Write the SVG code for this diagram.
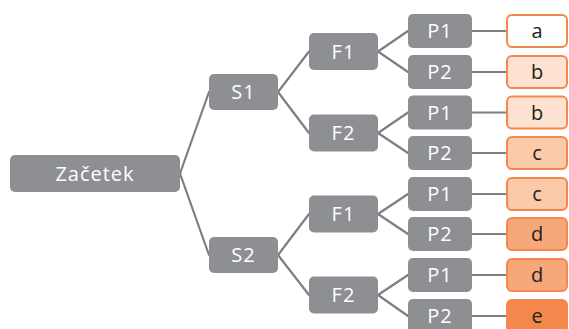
<svg xmlns="http://www.w3.org/2000/svg" width="569" height="329" viewBox="0 0 569 329">
<style>
.n rect{fill:#8e8f92}
.n text{fill:#ffffff;font-family:"Open Sans","DejaVu Sans",sans-serif;font-size:20px;text-anchor:middle;letter-spacing:1px}
.l rect{stroke:#f4874b;stroke-width:2}
.l text{fill:#222222;font-family:"Open Sans","DejaVu Sans",sans-serif;font-size:20px;text-anchor:middle}
.c line{stroke:#7f7f82;stroke-width:2.2;stroke-linecap:round}
</style>
<rect width="569" height="329" fill="#ffffff"/>
<g class="c" id="connectors">
<line x1="180" y1="173.5" x2="209" y2="92"/>
<line x1="180" y1="173.5" x2="209" y2="255"/>
<line x1="278" y1="92" x2="309" y2="51.5"/>
<line x1="278" y1="92" x2="309" y2="133"/>
<line x1="278" y1="255" x2="309" y2="214"/>
<line x1="278" y1="255" x2="309" y2="295"/>
<line x1="378" y1="51.5" x2="408" y2="31"/>
<line x1="378" y1="51.5" x2="408" y2="72"/>
<line x1="378" y1="133" x2="408" y2="112.5"/>
<line x1="378" y1="133" x2="408" y2="153"/>
<line x1="378" y1="214" x2="408" y2="194"/>
<line x1="378" y1="214" x2="408" y2="234"/>
<line x1="378" y1="295" x2="408" y2="275"/>
<line x1="378" y1="295" x2="408" y2="316"/>
<line x1="472" y1="31" x2="506" y2="31"/>
<line x1="472" y1="72" x2="506" y2="72"/>
<line x1="472" y1="112.5" x2="506" y2="112.5"/>
<line x1="472" y1="153" x2="506" y2="153"/>
<line x1="472" y1="194" x2="506" y2="194"/>
<line x1="472" y1="234" x2="506" y2="234"/>
<line x1="472" y1="275" x2="506" y2="275"/>
<line x1="472" y1="316" x2="506" y2="316"/>
</g>
<g class="n" id="zacetek"><rect x="10" y="155" width="170" height="37" rx="5"/><text x="95" y="180.5">Začetek</text></g>
<g class="n" id="s1"><rect x="209" y="74" width="69" height="36" rx="5"/><text x="243.5" y="99">S1</text></g>
<g class="n" id="s2"><rect x="209" y="237" width="69" height="36" rx="5"/><text x="243.5" y="262">S2</text></g>
<g class="n" id="s1f1"><rect x="309" y="33" width="69" height="37" rx="5"/><text x="343.5" y="58.5">F1</text></g>
<g class="n" id="s1f2"><rect x="309" y="114.5" width="69" height="37" rx="5"/><text x="343.5" y="140">F2</text></g>
<g class="n" id="s2f1"><rect x="309" y="195.5" width="69" height="37" rx="5"/><text x="343.5" y="221">F1</text></g>
<g class="n" id="s2f2"><rect x="309" y="276.5" width="69" height="37" rx="5"/><text x="343.5" y="302">F2</text></g>
<g class="n" id="p1"><rect x="408" y="14" width="64" height="34" rx="5"/><text x="440" y="38">P1</text></g>
<g class="n" id="p2"><rect x="408" y="55" width="64" height="34" rx="5"/><text x="440" y="79">P2</text></g>
<g class="n" id="p3"><rect x="408" y="95.5" width="64" height="34" rx="5"/><text x="440" y="119.5">P1</text></g>
<g class="n" id="p4"><rect x="408" y="136" width="64" height="34" rx="5"/><text x="440" y="160">P2</text></g>
<g class="n" id="p5"><rect x="408" y="177" width="64" height="34" rx="5"/><text x="440" y="201">P1</text></g>
<g class="n" id="p6"><rect x="408" y="217" width="64" height="34" rx="5"/><text x="440" y="241">P2</text></g>
<g class="n" id="p7"><rect x="408" y="258" width="64" height="34" rx="5"/><text x="440" y="282">P1</text></g>
<g class="n" id="p8"><rect x="408" y="299" width="64" height="34" rx="5"/><text x="440" y="323">P2</text></g>
<g class="l" id="leaf1"><rect x="507" y="15" width="60" height="32" rx="5" fill="#ffffff"/><text x="537" y="38">a</text></g>
<g class="l" id="leaf2"><rect x="507" y="56" width="60" height="32" rx="5" fill="#fde2d1"/><text x="537" y="79">b</text></g>
<g class="l" id="leaf3"><rect x="507" y="96.5" width="60" height="32" rx="5" fill="#fde2d1"/><text x="537" y="119.5">b</text></g>
<g class="l" id="leaf4"><rect x="507" y="137" width="60" height="32" rx="5" fill="#fbcaa9"/><text x="537" y="160">c</text></g>
<g class="l" id="leaf5"><rect x="507" y="178" width="60" height="32" rx="5" fill="#fbcaa9"/><text x="537" y="201">c</text></g>
<g class="l" id="leaf6"><rect x="507" y="218" width="60" height="32" rx="5" fill="#f7a87a"/><text x="537" y="241">d</text></g>
<g class="l" id="leaf7"><rect x="507" y="259" width="60" height="32" rx="5" fill="#f7a87a"/><text x="537" y="282">d</text></g>
<g class="l" id="leaf8"><rect x="507" y="300" width="60" height="32" rx="5" fill="#f4874b"/><text x="537" y="323">e</text></g>
</svg>
